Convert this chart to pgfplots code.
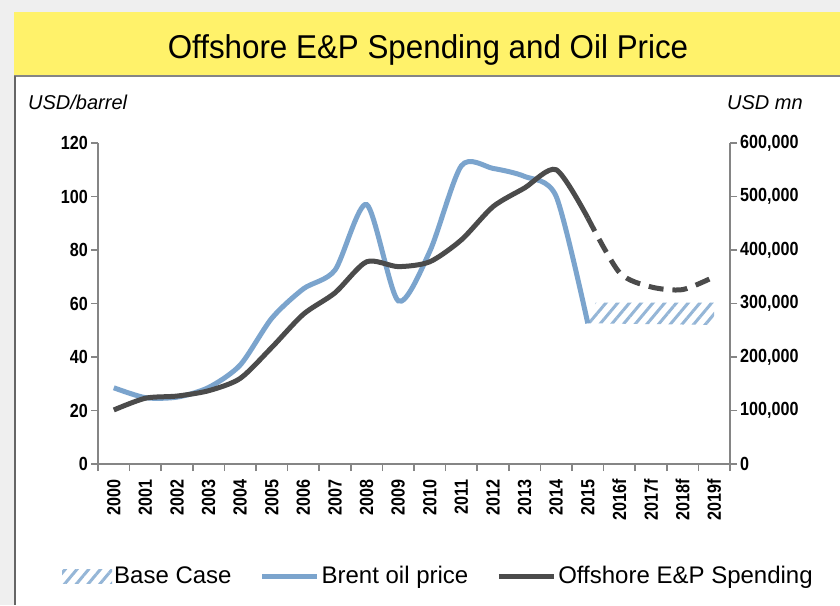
\documentclass[border=0pt]{standalone}
\usepackage{fontspec}
\setmainfont{Liberation Sans}
\newfontfamily\narrow[FakeStretch=0.85]{Liberation Sans}
\newfontfamily\titlefont[FakeStretch=0.95]{Liberation Sans}
\usepackage{pgfplots}
\pgfplotsset{compat=1.18}
\usetikzlibrary{patterns.meta}

\definecolor{brent}{HTML}{7BA4CD}
\definecolor{spend}{HTML}{4B4B4B}
\definecolor{axgray}{HTML}{858585}
\definecolor{titleyellow}{HTML}{FFF26A}
\definecolor{bggray}{HTML}{EFEFEF}

\pgfplotsset{
  lineleg/.style={legend image code/.code={\draw[##1] (0pt,0pt) -- (55pt,0pt);}},
  hatchleg/.style={legend image code/.code={\fill[##1] (0pt,-7pt) rectangle (50pt,7pt);}},
}

\pgfplotstableread{
x y
0 28.5
1 24.8
2 25.0
3 28.6
4 37.0
5 54.5
6 65.5
7 72.5
8 97.0
9 61.0
10 79.5
11 111.5
12 110.5
13 107.5
14 100.0
15 52.6
}\brenttbl

\pgfplotstableread{
x y
0 101000
1 123000
2 127000
3 137000
4 160000
5 218000
6 280000
7 320000
8 378000
9 369000
10 378000
11 419000
12 481000
13 516000
14 550000
15 460000
}\spendtbl

\pgfplotstableread{
x y
15 460000
16 358000
17 331000
18 326000
19 350000
}\spendfc

\pgfplotstableread{
x y
15 52.6
15.25 60.3
19 60.3
19 52.0
15 52.6
}\basetbl

\begin{document}
\begin{tikzpicture}
\path[use as bounding box] (0pt,0pt) rectangle (840pt,-605pt);
\fill[bggray] (0pt,0pt) rectangle (840pt,-605pt);
\fill[white] (14pt,-76pt) rectangle (840pt,-605pt);
\fill[titleyellow] (14pt,-12pt) rectangle (840pt,-76pt);
\draw[axgray, line width=1.5pt] (14pt,-76pt) -- (840pt,-76pt);
\draw[black!60, line width=1.2pt] (15pt,-76pt) -- (15pt,-605pt);
\node[anchor=base, inner sep=0pt, font=\titlefont\fontsize{33}{36}\selectfont] at (428pt,-58pt) {Offshore E\&P Spending and Oil Price};
\node[anchor=base west, inner sep=0pt, font=\itshape\fontsize{20}{24}\selectfont] at (28pt,-109pt) {USD/barrel};
\node[anchor=base west, inner sep=0pt, font=\itshape\fontsize{20}{24}\selectfont] at (727pt,-109pt) {USD mn};

\begin{axis}[
  at={(98pt,-464pt)}, anchor=south west,
  scale only axis, width=632pt, height=321pt,
  xmin=-0.5, xmax=19.5, ymin=0, ymax=120,
  axis x line*=bottom, axis y line*=left,
  axis line style={axgray, line width=1.5pt},
  tick style={axgray, line width=1.5pt},
  tick align=outside,
  major tick length=7pt, minor tick length=7pt,
  xtick={0,...,19},
  xticklabels={2000,2001,2002,2003,2004,2005,2006,2007,2008,2009,2010,2011,2012,2013,2014,2015,2016f,2017f,2018f,2019f},
  major x tick style={draw=none},
  minor xtick={-0.5,0.5,...,19.5},
  xticklabel shift=6pt,
  x tick label style={rotate=90, anchor=east, inner sep=2pt, font=\narrow\bfseries\fontsize{19}{19}\selectfont},
  ytick={0,20,...,120},
  yticklabels={0,20,40,60,80,100,120},
  y tick label style={inner sep=3pt, font=\narrow\bfseries\fontsize{19}{19}\selectfont},
  clip=false,
]
\addplot[draw=none, pattern={Lines[angle=50,distance=9pt,line width=3pt]}, pattern color=brent!80] table {\basetbl};
\addplot[brent, line width=5pt, smooth, tension=0.45] table {\brenttbl};
\end{axis}

\begin{axis}[
  at={(98pt,-464pt)}, anchor=south west,
  scale only axis, width=632pt, height=321pt,
  xmin=-0.5, xmax=19.5, ymin=0, ymax=600000,
  axis x line=none, axis y line*=right,
  axis line style={axgray, line width=1.5pt},
  tick style={axgray, line width=1.5pt},
  tick align=outside,
  major tick length=7pt,
  ytick={0,100000,200000,300000,400000,500000,600000},
  yticklabels={0,{100,000},{200,000},{300,000},{400,000},{500,000},{600,000}},
  scaled y ticks=false,
  y tick label style={inner sep=3pt, font=\narrow\bfseries\fontsize{19}{19}\selectfont},
  clip=false,
  legend columns=3,
  legend cell align=left,
  legend style={at={(-0.057,-0.349)}, anchor=west, draw=none, fill=none, inner sep=0pt,
    font=\fontsize{24}{26}\selectfont,
    nodes={inner sep=2pt},
    /tikz/every even column/.append style={column sep=26pt}},
]
\addlegendimage{draw=none, pattern={Lines[angle=50,distance=9pt,line width=3pt]}, pattern color=brent!80, hatchleg}
\addlegendentry{Base Case}
\addlegendimage{brent, line width=5pt, lineleg}
\addlegendentry{Brent oil price}
\addplot[spend, line width=5pt, smooth, tension=0.45, lineleg] table {\spendtbl};
\addlegendentry{Offshore E\&P Spending}
\addplot[spend, line width=5pt, smooth, tension=0.45, dash pattern=on 15pt off 9pt, forget plot] table {\spendfc};
\end{axis}
\end{tikzpicture}
\end{document}
